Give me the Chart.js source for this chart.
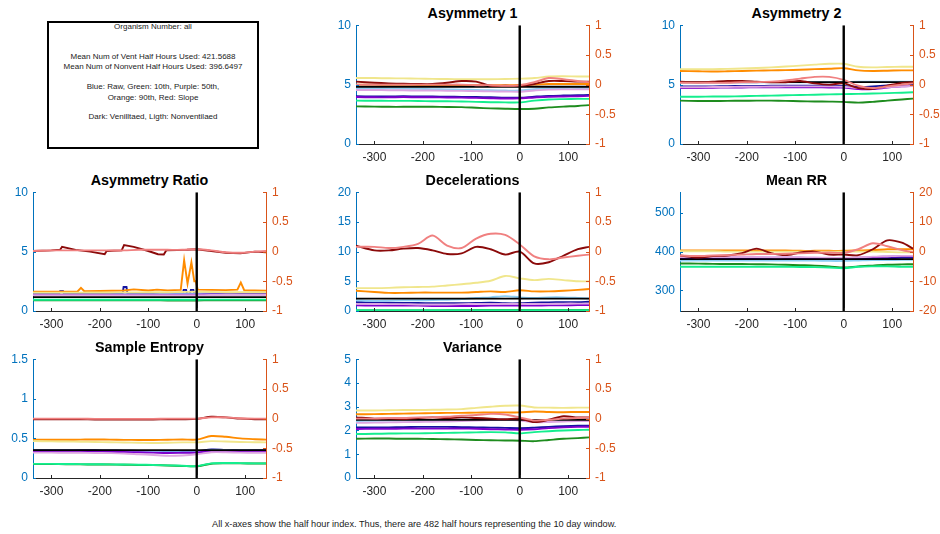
<!DOCTYPE html>
<html>
<head>
<meta charset="utf-8">
<script src="https://cdn.jsdelivr.net/npm/chart.js@4.4.7/dist/chart.umd.min.js"></script>
<style>
  body { margin: 0; background: #fff; width: 940px; height: 534px; position: relative; overflow: hidden;
         font-family: "Liberation Sans", Arial, Helvetica, sans-serif; }
  canvas { position: absolute; }
  .title { position: absolute; font-weight: bold; font-size: 14.3px; line-height: 18px; text-align: center; color: #000; }
  #info { position: absolute; left: 47px; top: 21px; width: 212px; height: 128px; border: 2px solid #000;
          box-sizing: border-box; font-size: 8px; color: #1a1a1a; }
  #info div { position: absolute; left: 0; right: 0; text-align: center; line-height: 10px; white-space: nowrap; }
  #footer { position: absolute; left: 212px; top: 518px; font-size: 9.2px; line-height: 12px; color: #1a1a1a; white-space: nowrap; }
</style>
</head>
<body>
<div id="info">
  <div style="top:-1px">Organism Number: all</div>
  <div style="top:29px">Mean Num of Vent Half Hours Used: 421.5688</div>
  <div style="top:39px">Mean Num of Nonvent Half Hours Used: 396.6497</div>
  <div style="top:59px">Blue: Raw, Green: 10th, Purple: 50th,</div>
  <div style="top:70px">Orange: 90th, Red: Slope</div>
  <div style="top:89px">Dark: Venilltaed, Ligth: Nonventilaed</div>
</div>
<div id="footer">All x-axes show the half hour index. Thus, there are 482 half hours representing the 10 day window.</div>

<script>
// half hour index, shared by most series
const X = [-338, -300, -270, -240, -210, -180, -150, -120, -90, -60, -30, 0, 30, 60, 90, 120, 143]
const X_MIN = -338
const X_MAX = 143
const X_TICKS = [-300, -200, -100, 0, 100]
const EVENT_X = 0

const SLOPE_RANGE = [-1, 1]
const SLOPE_TICKS = [-1, -0.5, 0, 0.5, 1]

// Asymmetry 1
const A1_RAW_V = [4.02, 4.0, 4.0, 4.02, 4.0, 4.0, 3.98, 3.97, 3.95, 3.93, 3.9, 3.9, 3.98, 4.05, 4.08, 4.1, 4.12]
const A1_RAW_N = [4.7, 4.7, 4.68, 4.66, 4.65, 4.62, 4.6, 4.58, 4.55, 4.52, 4.5, 4.5, 4.62, 4.7, 4.72, 4.72, 4.72]
const A1_P10_V = [3.17, 3.15, 3.13, 3.13, 3.14, 3.13, 3.12, 3.1, 3.05, 3.0, 2.97, 2.95, 2.97, 3.08, 3.15, 3.2, 3.27]
const A1_P10_N = [3.65, 3.64, 3.63, 3.63, 3.62, 3.6, 3.6, 3.58, 3.55, 3.52, 3.5, 3.5, 3.65, 3.75, 3.78, 3.8, 3.8]
const A1_P50_V = [3.95, 3.93, 3.93, 3.95, 3.93, 3.93, 3.92, 3.9, 3.88, 3.85, 3.83, 3.85, 3.92, 3.98, 4.0, 4.02, 4.05]
const A1_P50_N = [4.55, 4.55, 4.53, 4.52, 4.5, 4.5, 4.48, 4.47, 4.45, 4.43, 4.42, 4.4, 4.5, 4.58, 4.6, 4.6, 4.6]
const A1_P90_V = [5.0, 5.0, 4.98, 4.98, 4.97, 4.97, 4.96, 4.95, 4.95, 4.95, 4.95, 4.97, 5.0, 5.05, 5.05, 5.05, 5.05]
const A1_P90_N = [5.55, 5.55, 5.53, 5.52, 5.5, 5.48, 5.47, 5.46, 5.45, 5.45, 5.47, 5.5, 5.55, 5.68, 5.7, 5.68, 5.68]
const A1_SLOPE_V = [0.05, 0.03, 0.02, 0.015, 0.01, 0.01, 0.03, 0.06, 0.05, -0.02, -0.02, -0.02, 0.01, 0.06, 0.06, 0.05, 0.05]
const A1_SLOPE_N = [0.0, 0.0, 0.0, 0.0, 0.0, 0.0, 0.0, 0.0, -0.01, -0.01, -0.02, -0.01, 0.04, 0.11, 0.09, 0.06, 0.04]
const A1_REF = 4.82

// Asymmetry 2
const A2_RAW_V = [4.85, 4.85, 4.85, 4.87, 4.88, 4.88, 4.9, 4.9, 4.9, 4.9, 4.88, 4.88, 4.8, 4.85, 4.92, 4.98, 5.0]
const A2_RAW_N = [5.18, 5.18, 5.18, 5.18, 5.18, 5.18, 5.2, 5.2, 5.2, 5.2, 5.2, 5.2, 5.25, 5.25, 5.25, 5.25, 5.25]
const A2_P10_V = [3.65, 3.62, 3.62, 3.63, 3.64, 3.65, 3.65, 3.63, 3.6, 3.58, 3.57, 3.55, 3.48, 3.55, 3.65, 3.75, 3.82]
const A2_P10_N = [3.98, 3.98, 4.0, 4.0, 4.02, 4.05, 4.07, 4.1, 4.12, 4.15, 4.18, 4.2, 4.22, 4.25, 4.28, 4.32, 4.35]
const A2_P50_V = [4.72, 4.72, 4.74, 4.75, 4.76, 4.77, 4.78, 4.78, 4.78, 4.78, 4.76, 4.75, 4.62, 4.62, 4.75, 4.85, 4.88]
const A2_P50_N = [4.78, 4.78, 4.8, 4.8, 4.82, 4.82, 4.84, 4.85, 4.85, 4.85, 4.85, 4.82, 4.7, 4.7, 4.8, 4.85, 4.88]
const A2_P90_V = [6.15, 6.12, 6.1, 6.12, 6.15, 6.18, 6.2, 6.22, 6.25, 6.3, 6.33, 6.38, 6.2, 6.15, 6.17, 6.2, 6.2]
const A2_P90_N = [6.3, 6.3, 6.3, 6.32, 6.35, 6.4, 6.45, 6.52, 6.6, 6.68, 6.75, 6.75, 6.5, 6.45, 6.48, 6.5, 6.5]
const A2_SLOPE_V = [0.05, 0.04, 0.05, 0.06, 0.06, 0.05, 0.04, 0.04, 0.06, 0.02, 0.0, 0.02, -0.06, -0.07, -0.02, 0.03, 0.04]
const A2_SLOPE_N = [0.03, 0.03, 0.03, 0.03, 0.04, 0.04, 0.05, 0.07, 0.1, 0.13, 0.13, 0.08, -0.02, -0.06, -0.03, 0.0, 0.02]
const A2_REF = 5.21

// Asymmetry Ratio (some series have their own, denser x positions)
const AR_RAW_V_X = [-338, -284, -282, -276, -274, -153, -151, -145, -143, -29, -27, -22, -20, -14, -12, -7, -5, 143]
const AR_RAW_V = [1.45, 1.45, 1.67, 1.67, 1.45, 1.45, 2.02, 2.02, 1.45, 1.45, 1.78, 1.78, 1.45, 1.45, 1.78, 1.78, 1.45, 1.45]
const AR_RAW_N = [1.4, 1.4, 1.4, 1.4, 1.4, 1.4, 1.42, 1.42, 1.42, 1.45, 1.45, 1.45, 1.42, 1.42, 1.4, 1.4, 1.4]
const AR_P10_V = [0.9, 0.9, 0.9, 0.9, 0.9, 0.9, 0.9, 0.9, 0.9, 0.89, 0.89, 0.89, 0.9, 0.9, 0.9, 0.9, 0.9]
const AR_P10_N = [0.95, 0.95, 0.95, 0.95, 0.95, 0.95, 0.95, 0.95, 0.95, 0.95, 0.95, 0.95, 0.96, 0.96, 0.96, 0.96, 0.96]
const AR_P50_V = [1.37, 1.37, 1.37, 1.37, 1.37, 1.37, 1.37, 1.37, 1.37, 1.37, 1.37, 1.37, 1.4, 1.4, 1.4, 1.4, 1.4]
const AR_P50_N = [1.33, 1.33, 1.33, 1.33, 1.33, 1.33, 1.33, 1.33, 1.33, 1.33, 1.33, 1.33, 1.35, 1.35, 1.35, 1.35, 1.35]
const AR_P90_V_X = [-338, -300, -246, -239, -232, -200, -150, -130, -100, -82, -60, -33, -26, -19, -11, -5, -2, 2, 30, 60, 84, 91, 98, 120, 143]
const AR_P90_V = [1.62, 1.63, 1.64, 1.95, 1.66, 1.68, 1.72, 1.82, 1.72, 1.8, 1.74, 1.78, 4.28, 2.3, 4.1, 2.5, 2.5, 1.8, 1.78, 1.76, 1.8, 2.4, 1.75, 1.72, 1.7]
const AR_P90_N = [1.55, 1.55, 1.55, 1.55, 1.56, 1.56, 1.57, 1.57, 1.58, 1.58, 1.6, 1.62, 1.6, 1.58, 1.58, 1.58, 1.58]
const AR_SLOPE_V_X = [-338, -300, -282, -278, -250, -220, -190, -186, -155, -150, -130, -100, -80, -68, -63, -40, -20, 0, 30, 60, 90, 120, 143]
const AR_SLOPE_V = [0.01, 0.02, 0.03, 0.08, 0.03, 0.0, -0.045, 0.01, 0.02, 0.11, 0.08, 0.01, -0.045, -0.05, 0.02, 0.025, 0.03, 0.04, 0.01, -0.02, -0.03, 0.0, -0.01]
const AR_SLOPE_N = [0.01, 0.02, 0.02, 0.02, 0.02, 0.02, 0.02, 0.03, 0.03, 0.03, 0.03, 0.04, 0.02, -0.01, -0.02, 0.0, 0.01]
const AR_REF = 1.17

// Decelerations
const DC_RAW_V = [1.5, 1.4, 1.4, 1.35, 1.35, 1.3, 1.3, 1.3, 1.35, 1.4, 1.3, 1.3, 1.4, 1.45, 1.5, 1.5, 1.55]
const DC_RAW_N = [1.8, 1.7, 1.75, 1.8, 1.8, 1.85, 1.9, 2.0, 2.2, 2.3, 2.5, 2.3, 2.2, 2.3, 2.3, 2.2, 2.1]
const DC_P10_V = [0.1, 0.1, 0.1, 0.1, 0.1, 0.1, 0.12, 0.14, 0.16, 0.18, 0.18, 0.18, 0.18, 0.18, 0.18, 0.18, 0.18]
const DC_P10_N = [0.15, 0.15, 0.15, 0.14, 0.14, 0.14, 0.13, 0.13, 0.12, 0.12, 0.12, 0.12, 0.12, 0.12, 0.12, 0.12, 0.12]
const DC_P50_V = [0.95, 0.9, 0.9, 0.9, 0.9, 0.85, 0.85, 0.85, 0.85, 0.9, 0.9, 0.9, 0.9, 0.95, 0.95, 1.0, 1.0]
const DC_P50_N = [1.2, 1.2, 1.15, 1.15, 1.1, 1.1, 1.1, 1.15, 1.2, 1.2, 1.2, 1.2, 1.2, 1.2, 1.25, 1.25, 1.25]
const DC_P90_V = [3.4, 3.2, 3.05, 3.05, 3.1, 3.1, 3.1, 3.1, 3.2, 3.3, 3.2, 3.5, 3.3, 3.3, 3.4, 3.55, 3.7]
const DC_P90_N = [3.85, 3.85, 3.9, 4.0, 4.05, 4.1, 4.3, 4.5, 4.75, 5.1, 5.9, 5.5, 5.2, 5.4, 5.2, 5.0, 5.0]
const DC_SLOPE_V = [0.1, 0.02, 0.02, 0.05, 0.06, 0.02, -0.04, -0.03, 0.08, 0.04, -0.05, 0.0, -0.2, -0.18, -0.07, 0.04, 0.08]
const DC_SLOPE_N = [0.08, 0.08, 0.06, 0.08, 0.13, 0.27, 0.1, 0.06, 0.22, 0.3, 0.28, 0.12, -0.08, -0.13, -0.1, -0.07, -0.05]
const DC_REF = 2.1

// Mean RR
const MR_RAW_V = [383, 383, 382, 382, 382, 382, 381, 381, 381, 381, 380, 380, 381, 382, 383, 384, 384]
const MR_RAW_N = [377, 377, 377, 377, 377, 377, 377, 377, 377, 377, 376, 376, 377, 378, 378, 379, 379]
const MR_P10_V = [369.5, 369, 368.5, 368, 368, 367.5, 367, 366, 365, 364, 362, 359, 362, 364, 366, 367, 367.5]
const MR_P10_N = [361, 361, 361, 361, 361, 361, 361, 361, 360.5, 360, 359, 357, 361, 362, 362, 361, 361]
const MR_P50_V = [384, 384, 384, 384, 384, 384, 384, 384, 384, 383, 383, 383, 384, 386, 387, 388, 388]
const MR_P50_N = [386, 386, 386, 386, 386, 386, 385, 385, 385, 385, 384, 384, 385, 387, 388, 389, 389]
const MR_P90_V = [403, 403, 403, 403, 403, 403, 403, 403, 402, 402, 402, 402, 403, 404, 406, 406, 406]
const MR_P90_N = [401, 401, 401, 400, 400, 400, 400, 400, 400, 400, 400, 400, 400, 400, 399, 398, 398]
const MR_SLOPE_V = [-1.3, -2.0, -1.5, -1.3, -0.5, 1.0, -0.5, -1.2, -0.3, 0.0, -1.0, -1.0, -1.2, 0.8, 3.8, 3.0, 1.0]
const MR_SLOPE_N = [-1.3, -1.5, -1.3, -1.2, -1.0, -0.8, -0.8, -0.7, -0.6, -0.4, -0.3, -0.4, 0.8, 2.8, 1.8, 0.5, -0.2]
const MR_REF = 380.4

// Sample Entropy
const SE_RAW_V = [0.35, 0.35, 0.35, 0.35, 0.35, 0.348, 0.345, 0.342, 0.338, 0.335, 0.333, 0.335, 0.36, 0.355, 0.352, 0.35, 0.35]
const SE_RAW_N = [0.345, 0.345, 0.344, 0.343, 0.342, 0.34, 0.338, 0.335, 0.33, 0.325, 0.325, 0.33, 0.35, 0.35, 0.348, 0.346, 0.346]
const SE_P10_V = [0.175, 0.175, 0.174, 0.172, 0.17, 0.17, 0.168, 0.165, 0.162, 0.158, 0.152, 0.148, 0.18, 0.185, 0.185, 0.183, 0.183]
const SE_P10_N = [0.178, 0.178, 0.177, 0.175, 0.174, 0.172, 0.17, 0.168, 0.165, 0.16, 0.155, 0.15, 0.185, 0.19, 0.188, 0.185, 0.185]
const SE_P50_V = [0.335, 0.335, 0.333, 0.333, 0.332, 0.33, 0.328, 0.325, 0.32, 0.315, 0.318, 0.322, 0.34, 0.34, 0.338, 0.335, 0.335]
const SE_P50_N = [0.32, 0.32, 0.318, 0.318, 0.316, 0.314, 0.31, 0.3, 0.29, 0.28, 0.285, 0.3, 0.325, 0.325, 0.32, 0.318, 0.318]
const SE_P90_V = [0.485, 0.483, 0.483, 0.485, 0.487, 0.484, 0.482, 0.48, 0.48, 0.483, 0.487, 0.485, 0.53, 0.52, 0.5, 0.49, 0.485]
const SE_P90_N = [0.465, 0.463, 0.46, 0.458, 0.455, 0.452, 0.448, 0.445, 0.442, 0.445, 0.45, 0.45, 0.465, 0.46, 0.455, 0.452, 0.45]
const SE_SLOPE_V = [-0.01, -0.01, -0.01, -0.01, -0.015, -0.015, -0.015, -0.015, -0.015, -0.01, -0.01, -0.005, 0.03, 0.02, 0.0, -0.01, -0.01]
const SE_SLOPE_N = [0.0, 0.0, 0.0, 0.0, -0.005, -0.005, -0.005, -0.005, -0.005, 0.0, 0.0, 0.0, 0.02, 0.02, 0.005, 0.0, 0.0]
const SE_REF = 0.353

// Variance
const VA_RAW_V = [2.13, 2.13, 2.13, 2.14, 2.15, 2.15, 2.15, 2.14, 2.13, 2.12, 2.11, 2.1, 2.12, 2.15, 2.18, 2.2, 2.2]
const VA_RAW_N = [2.4, 2.41, 2.42, 2.42, 2.43, 2.44, 2.45, 2.46, 2.47, 2.48, 2.48, 2.47, 2.42, 2.44, 2.46, 2.47, 2.47]
const VA_P10_V = [1.65, 1.66, 1.66, 1.65, 1.65, 1.64, 1.63, 1.62, 1.6, 1.59, 1.58, 1.57, 1.55, 1.6, 1.65, 1.68, 1.71]
const VA_P10_N = [1.85, 1.86, 1.87, 1.88, 1.88, 1.89, 1.9, 1.91, 1.92, 1.93, 1.92, 1.88, 1.93, 1.97, 2.0, 2.02, 2.03]
const VA_P50_V = [2.06, 2.07, 2.07, 2.08, 2.08, 2.08, 2.08, 2.08, 2.07, 2.05, 2.04, 2.03, 2.05, 2.1, 2.13, 2.15, 2.16]
const VA_P50_N = [2.32, 2.33, 2.34, 2.35, 2.36, 2.37, 2.38, 2.4, 2.42, 2.44, 2.45, 2.42, 2.35, 2.36, 2.38, 2.4, 2.4]
const VA_P90_V = [2.68, 2.69, 2.7, 2.71, 2.72, 2.73, 2.74, 2.74, 2.75, 2.76, 2.76, 2.76, 2.8, 2.78, 2.77, 2.78, 2.78]
const VA_P90_N = [2.84, 2.84, 2.85, 2.86, 2.86, 2.87, 2.88, 2.9, 2.95, 3.0, 3.04, 3.05, 2.97, 2.96, 2.95, 2.96, 2.96]
const VA_SLOPE_V = [0.02, 0.0, 0.0, -0.01, 0.01, 0.02, 0.01, 0.02, 0.01, 0.0, -0.01, 0.0, -0.06, -0.02, 0.04, 0.02, 0.02]
const VA_SLOPE_N = [0.0, 0.0, 0.01, 0.01, 0.02, 0.02, 0.03, 0.05, 0.06, 0.08, 0.07, 0.02, -0.03, -0.02, 0.0, 0.01, 0.02]
const VA_REF = 2.45

// --- styling / layout ---
const LEFT_COLOR = "#0072BD"
const RIGHT_COLOR = "#D95319"
const AXIS_COLOR = "#262626"
const COLS = [33, 356, 680]
const ROWS = [24, 191, 358]
const PLOT_W = 233
const PLOT_H = 120
const SIDE = 40
const PAD_T = 12
const PAD_B = 28

// bottom to top
const STYLES = [
  ["p10V", "#1E8C1E"], ["p10N", "#14EE8E"],
  ["rawV", "#1414A0"], ["rawN", "#8CCFF5"],
  ["p50V", "#7E00CC"], ["p50N", "#DDA6E0"],
  ["p90V", "#FF8C00"], ["p90N", "#F0E68C"],
  ["slopeV", "#8B0A0A"], ["slopeN", "#F08080"]
]

const PANELS = [
  { title: "Asymmetry 1", col: 1, row: 0, yRange: [0, 10], yTicks: [0, 5, 10], ref: A1_REF,
    lines: { rawV: [X, A1_RAW_V], rawN: [X, A1_RAW_N], p10V: [X, A1_P10_V], p10N: [X, A1_P10_N],
             p50V: [X, A1_P50_V], p50N: [X, A1_P50_N], p90V: [X, A1_P90_V], p90N: [X, A1_P90_N],
             slopeV: [X, A1_SLOPE_V], slopeN: [X, A1_SLOPE_N] } },
  { title: "Asymmetry 2", col: 2, row: 0, yRange: [0, 10], yTicks: [0, 5, 10], ref: A2_REF,
    lines: { rawV: [X, A2_RAW_V], rawN: [X, A2_RAW_N], p10V: [X, A2_P10_V], p10N: [X, A2_P10_N],
             p50V: [X, A2_P50_V], p50N: [X, A2_P50_N], p90V: [X, A2_P90_V], p90N: [X, A2_P90_N],
             slopeV: [X, A2_SLOPE_V], slopeN: [X, A2_SLOPE_N] } },
  { title: "Asymmetry Ratio", col: 0, row: 1, yRange: [0, 10], yTicks: [0, 5, 10], ref: AR_REF,
    lines: { rawV: [AR_RAW_V_X, AR_RAW_V], rawN: [X, AR_RAW_N], p10V: [X, AR_P10_V], p10N: [X, AR_P10_N],
             p50V: [X, AR_P50_V], p50N: [X, AR_P50_N], p90V: [AR_P90_V_X, AR_P90_V], p90N: [X, AR_P90_N],
             slopeV: [AR_SLOPE_V_X, AR_SLOPE_V], slopeN: [X, AR_SLOPE_N] }, sharp: true },
  { title: "Decelerations", col: 1, row: 1, yRange: [0, 20], yTicks: [0, 5, 10, 15, 20], ref: DC_REF,
    lines: { rawV: [X, DC_RAW_V], rawN: [X, DC_RAW_N], p10V: [X, DC_P10_V], p10N: [X, DC_P10_N],
             p50V: [X, DC_P50_V], p50N: [X, DC_P50_N], p90V: [X, DC_P90_V], p90N: [X, DC_P90_N],
             slopeV: [X, DC_SLOPE_V], slopeN: [X, DC_SLOPE_N] } },
  { title: "Mean RR", col: 2, row: 1, yRange: [247, 553], yTicks: [300, 400, 500], ref: MR_REF,
    rRange: [-20, 20], rTicks: [-20, -10, 0, 10, 20],
    lines: { rawV: [X, MR_RAW_V], rawN: [X, MR_RAW_N], p10V: [X, MR_P10_V], p10N: [X, MR_P10_N],
             p50V: [X, MR_P50_V], p50N: [X, MR_P50_N], p90V: [X, MR_P90_V], p90N: [X, MR_P90_N],
             slopeV: [X, MR_SLOPE_V], slopeN: [X, MR_SLOPE_N] } },
  { title: "Sample Entropy", col: 0, row: 2, yRange: [0, 1.5], yTicks: [0, 0.5, 1, 1.5], ref: SE_REF,
    lines: { rawV: [X, SE_RAW_V], rawN: [X, SE_RAW_N], p10V: [X, SE_P10_V], p10N: [X, SE_P10_N],
             p50V: [X, SE_P50_V], p50N: [X, SE_P50_N], p90V: [X, SE_P90_V], p90N: [X, SE_P90_N],
             slopeV: [X, SE_SLOPE_V], slopeN: [X, SE_SLOPE_N] } },
  { title: "Variance", col: 1, row: 2, yRange: [0, 5], yTicks: [0, 1, 2, 3, 4, 5], ref: VA_REF,
    lines: { rawV: [X, VA_RAW_V], rawN: [X, VA_RAW_N], p10V: [X, VA_P10_V], p10N: [X, VA_P10_N],
             p50V: [X, VA_P50_V], p50N: [X, VA_P50_N], p90V: [X, VA_P90_V], p90N: [X, VA_P90_N],
             slopeV: [X, VA_SLOPE_V], slopeN: [X, VA_SLOPE_N] } }
]

Chart.defaults.font.family = '"Liberation Sans", Arial, Helvetica, sans-serif'
Chart.defaults.font.size = 12

// MATLAB style ticks pointing into the plot
const inwardTicks = {
  id: "inwardTicks",
  afterDraw(chart) {
    const { ctx, chartArea: a } = chart
    ctx.save()
    ctx.lineWidth = 1
    Object.values(chart.scales).forEach(s => {
      ctx.strokeStyle = s.options.border.color
      s.ticks.forEach((t, i) => {
        const p = Math.round(s.getPixelForTick(i)) + 0.5
        ctx.beginPath()
        if (s.axis === "x") { ctx.moveTo(p, a.bottom); ctx.lineTo(p, a.bottom - 3) }
        else if (s.position === "left") { ctx.moveTo(a.left, p); ctx.lineTo(a.left + 3, p) }
        else { ctx.moveTo(a.right, p); ctx.lineTo(a.right - 3, p) }
        ctx.stroke()
      })
    })
    ctx.restore()
  }
}

const pts = (xs, ys) => xs.map((x, i) => ({ x, y: ys[i] }))
const fixedTicks = list => scale => { scale.ticks = list.map(v => ({ value: v })) }

PANELS.forEach(p => {
  const left = COLS[p.col], top = ROWS[p.row]

  const t = document.createElement("div")
  t.className = "title"
  t.textContent = p.title
  Object.assign(t.style, { left: left + "px", width: PLOT_W + "px", top: (top - 20) + "px" })
  document.body.appendChild(t)

  const canvas = document.createElement("canvas")
  canvas.width = PLOT_W + 2 * SIDE
  canvas.height = PLOT_H + PAD_T + PAD_B
  Object.assign(canvas.style, { left: (left - SIDE) + "px", top: (top - PAD_T) + "px" })
  document.body.appendChild(canvas)

  const rRange = p.rRange || SLOPE_RANGE
  const rTicks = p.rTicks || SLOPE_TICKS

  const datasets = STYLES.map(([key, color]) => {
    const [xs, ys] = p.lines[key]
    const slope = key.startsWith("slope")
    return {
      data: pts(xs, ys),
      yAxisID: slope ? "y1" : "y",
      borderColor: color,
      borderWidth: 1.9,
      tension: p.sharp && xs !== X ? 0 : 0.3
    }
  })
  // reference level and event marker
  datasets.splice(8, 0, {
    data: [{ x: X_MIN, y: p.ref }, { x: X_MAX, y: p.ref }],
    yAxisID: "y", borderColor: "#000", borderWidth: 1.8, tension: 0
  })
  datasets.push({
    data: [{ x: EVENT_X, y: p.yRange[0] }, { x: EVENT_X, y: p.yRange[1] }],
    yAxisID: "y", borderColor: "#000", borderWidth: 2.4, tension: 0
  })
  datasets.reverse()

  new Chart(canvas, {
    type: "line",
    data: { datasets },
    options: {
      responsive: false,
      animation: false,
      events: [],
      layout: { padding: { top: PAD_T, left: 0, right: 0, bottom: 0 } },
      elements: { point: { radius: 0 } },
      plugins: { legend: { display: false }, tooltip: { enabled: false } },
      scales: {
        x: {
          type: "linear", min: X_MIN, max: X_MAX,
          grid: { display: false, drawTicks: false },
          border: { color: AXIS_COLOR, width: 1 },
          ticks: { color: AXIS_COLOR, padding: 6, callback: v => String(v) },
          afterBuildTicks: fixedTicks(X_TICKS),
          afterFit: s => { s.height = PAD_B }
        },
        y: {
          position: "left", min: p.yRange[0], max: p.yRange[1],
          grid: { display: false, drawTicks: false },
          border: { color: LEFT_COLOR, width: 1 },
          ticks: { color: LEFT_COLOR, padding: 5, callback: v => String(v) },
          afterBuildTicks: fixedTicks(p.yTicks),
          afterFit: s => { s.width = SIDE }
        },
        y1: {
          position: "right", min: rRange[0], max: rRange[1],
          grid: { display: false, drawTicks: false },
          border: { color: RIGHT_COLOR, width: 1 },
          ticks: { color: RIGHT_COLOR, padding: 6, callback: v => String(v) },
          afterBuildTicks: fixedTicks(rTicks),
          afterFit: s => { s.width = SIDE }
        }
      }
    },
    plugins: [inwardTicks]
  })
})
</script>
</body>
</html>
